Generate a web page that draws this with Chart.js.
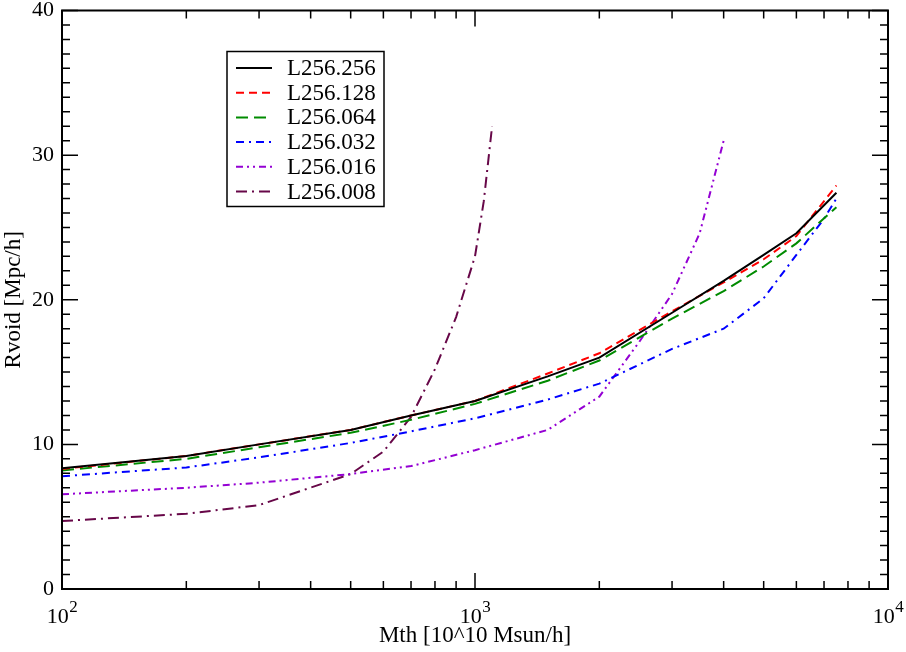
<!DOCTYPE html>
<html>
<head>
<meta charset="utf-8">
<script src="https://cdn.jsdelivr.net/npm/chart.js@4.4.1/dist/chart.umd.min.js"></script>
<style>
    body { margin: 0; background: #fff; }
    #wrap { width: 906px; height: 652px; }
</style>
</head>
<body>
<div id="wrap"><canvas id="void_chart"></canvas></div>
<script>
// Mth values, in 10^10 Msun/h
const mth = [100, 200, 300, 500, 700, 1000, 1500, 2000, 3000, 4000, 5000, 6000, 7500];
const mth032 = [100, 200, 300, 500, 700, 1000, 1500, 2000, 3000, 4000, 5000, 6000, 7000, 7500];
const mth016 = [100, 200, 300, 500, 700, 1000, 1500, 2000, 2500, 3000, 3500, 4000];
const mth008 = [100, 200, 300, 500, 600, 700, 800, 900, 1000, 1050, 1100];

// Rvoid values, in Mpc/h
const r256 = [8.35, 9.2, 10.0, 11.0, 12.0, 13.0, 14.7, 16.0, 19.1, 21.3, 23.1, 24.6, 27.4];
const r128 = [8.3, 9.2, 10.0, 11.0, 12.0, 13.0, 14.9, 16.3, 19.2, 21.2, 22.8, 24.4, 27.9];
const r064 = [8.2, 9.0, 9.8, 10.8, 11.7, 12.8, 14.4, 15.8, 18.7, 20.6, 22.3, 23.9, 26.4];
const r032 = [7.8, 8.4, 9.1, 10.1, 10.9, 11.8, 13.1, 14.2, 16.6, 18.0, 20.1, 23.1, 25.6, 27.0];
const r016 = [6.55, 7.0, 7.35, 7.95, 8.5, 9.6, 11.0, 13.3, 17.1, 20.4, 24.6, 31.0];
const r008 = [4.7, 5.2, 5.8, 7.95, 9.5, 11.9, 15.2, 18.8, 23.0, 26.8, 32.0];

const seriesNames = ['L256.256', 'L256.128', 'L256.064', 'L256.032', 'L256.016', 'L256.008'];
const xTicks = [100, 1000, 10000];
const yTicks = [0, 10, 20, 30, 40];

const serif = "'Liberation Serif', 'Times New Roman', serif";

const toPoints = (xs, ys) => xs.map((x, i) => ({x: x, y: ys[i]}));

const makeSet = (name, xs, ys, color, dash) => ({
    label: name,
    data: toPoints(xs, ys),
    showLine: true,
    borderColor: color,
    backgroundColor: color,
    borderWidth: 2,
    borderDash: dash,
    pointRadius: 0,
    tension: 0,
    fill: false
});

// inward ticks, box round the plot, 10^n labels
const framePlugin = {
    id: 'frame',
    afterDatasetsDraw(chart) {
        const ctx = chart.ctx;
        const a = chart.chartArea;
        const xs = chart.scales.x, ys = chart.scales.y;
        ctx.save();
        ctx.strokeStyle = '#000';
        ctx.lineWidth = 1.5;
        ctx.beginPath();
        const e0 = Math.round(Math.log10(xs.min)), e1 = Math.round(Math.log10(xs.max));
        for (let e = e0; e <= e1; e++) {
            for (let k = 1; k <= 9; k++) {
                const v = k * Math.pow(10, e);
                if (v > xs.max) break;
                const px = xs.getPixelForValue(v);
                const len = k === 1 ? 16 : 8;
                ctx.moveTo(px, a.bottom); ctx.lineTo(px, a.bottom - len);
                ctx.moveTo(px, a.top); ctx.lineTo(px, a.top + len);
            }
        }
        for (let v = ys.min; v <= ys.max; v++) {
            const py = ys.getPixelForValue(v);
            const len = v % 10 === 0 ? 16 : 8;
            ctx.moveTo(a.left, py); ctx.lineTo(a.left + len, py);
            ctx.moveTo(a.right, py); ctx.lineTo(a.right - len, py);
        }
        ctx.stroke();
        ctx.lineWidth = 2;
        ctx.strokeRect(a.left, a.top, a.right - a.left, a.bottom - a.top);

        // x tick labels as 10 with a raised exponent
        ctx.fillStyle = '#000';
        ctx.textBaseline = 'alphabetic';
        ctx.textAlign = 'left';
        xs.ticks.forEach(t => {
            const px = xs.getPixelForValue(t.value);
            const exp = String(Math.round(Math.log10(t.value)));
            ctx.font = '22px ' + serif;
            const w1 = ctx.measureText('10').width;
            ctx.font = '17px ' + serif;
            const w2 = ctx.measureText(exp).width;
            const left = px - (w1 + w2) / 2;
            ctx.font = '22px ' + serif;
            ctx.fillText('10', left, a.bottom + 33.5);
            ctx.font = '17px ' + serif;
            ctx.fillText(exp, left + w1 + 0.5, a.bottom + 22.5);
        });
        ctx.restore();
    }
};

const legendPlugin = {
    id: 'boxLegend',
    afterDatasetsDraw(chart) {
        const ctx = chart.ctx;
        const a = chart.chartArea;
        const bx = a.left + 165, by = a.top + 41, bw = 157, bh = 155;
        ctx.save();
        ctx.fillStyle = '#fff';
        ctx.fillRect(bx, by, bw, bh);
        ctx.strokeStyle = '#000';
        ctx.lineWidth = 1.5;
        ctx.strokeRect(bx, by, bw, bh);
        ctx.font = '23px ' + serif;
        ctx.textBaseline = 'middle';
        ctx.textAlign = 'left';
        chart.data.datasets.forEach((ds, i) => {
            const yy = by + 16.5 + i * 24.7;
            ctx.strokeStyle = ds.borderColor;
            ctx.lineWidth = 2;
            ctx.setLineDash(ds.borderDash || []);
            ctx.beginPath();
            ctx.moveTo(bx + 9, yy);
            ctx.lineTo(bx + 45, yy);
            ctx.stroke();
            ctx.setLineDash([]);
            ctx.fillStyle = '#000';
            ctx.fillText(ds.label, bx + 60, yy + 1);
        });
        ctx.restore();
    }
};

new Chart(document.getElementById('void_chart'), {
    type: 'scatter',
    data: {
        datasets: [
            makeSet(seriesNames[0], mth, r256, '#000000', []),
            makeSet(seriesNames[1], mth, r128, '#ff0000', [8, 5]),
            makeSet(seriesNames[2], mth, r064, '#008b00', [12, 6]),
            makeSet(seriesNames[3], mth032, r032, '#0000ff', [8, 5, 2, 5]),
            makeSet(seriesNames[4], mth016, r016, '#9400d3', [7, 4, 2, 4, 2, 4]),
            makeSet(seriesNames[5], mth008, r008, '#670748', [11, 5, 2, 5])
        ]
    },
    options: {
        responsive: true,
        maintainAspectRatio: false,
        animation: false,
        layout: { padding: { top: 10.5, right: 18, left: 0, bottom: 0 } },
        scales: {
            x: {
                type: 'logarithmic',
                min: 100,
                max: 10000,
                grid: { display: false },
                border: { display: false },
                afterBuildTicks: s => { s.ticks = xTicks.map(v => ({ value: v, major: true })); },
                afterFit: s => { s.height = 63; s.paddingLeft = 0; s.paddingRight = 0; },
                ticks: { display: false },
                title: {
                    display: true,
                    text: 'Mth [10^10 Msun/h]',
                    color: '#000',
                    padding: { top: 0, bottom: 2 },
                    font: { family: serif, size: 23 }
                }
            },
            y: {
                min: 0,
                max: 40,
                grid: { display: false, drawTicks: false, tickLength: 0 },
                border: { display: false },
                afterBuildTicks: s => { s.ticks = yTicks.map(v => ({ value: v })); },
                afterFit: s => { s.width = 62; s.paddingTop = 0; s.paddingBottom = 0; },
                ticks: {
                    padding: 8,
                    color: '#000',
                    font: { family: serif, size: 22 }
                },
                title: {
                    display: true,
                    text: 'Rvoid [Mpc/h]',
                    color: '#000',
                    padding: 0,
                    font: { family: serif, size: 23 }
                }
            }
        },
        plugins: {
            legend: { display: false },
            tooltip: { enabled: false }
        }
    },
    plugins: [framePlugin, legendPlugin]
});
</script>
</body>
</html>
